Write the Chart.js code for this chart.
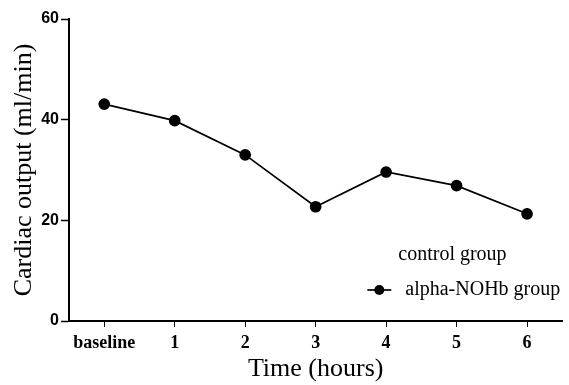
<!DOCTYPE html>
<html>
<head>
<meta charset="utf-8">
<script src="https://cdn.jsdelivr.net/npm/chart.js@4/dist/chart.umd.min.js"></script>
<style>
  html,body{margin:0;padding:0;background:#fff;}
  #wrap{width:569px;height:385px;}
</style>
</head>
<body>
<div id="wrap"><canvas id="co"></canvas></div>
<script>
// time points
const timeLabels = ['baseline','1','2','3','4','5','6'];
// cardiac output, alpha-NOHb group (ml/min)
const nohbValues = [43.1, 39.8, 33.0, 22.7, 29.6, 26.9, 21.3];
// control group: no marks visible in the figure
const controlValues = [];
const seriesNames = ['control group','alpha-NOHb group'];
const yMin = 0, yMax = 60, yStep = 20;

// legend drawn inside the plot, lower right
const insideLegend = {
  id:'insideLegend',
  afterDraw(chart){
    const {ctx, chartArea} = chart;
    ctx.save();
    ctx.font = '20px "Liberation Serif"';
    ctx.fillStyle = '#000';
    ctx.textBaseline = 'middle';
    const rows = [
      {x: chartArea.right-164, y: chartArea.top+236},
      {x: chartArea.right-157, y: chartArea.top+271}
    ];
    chart.data.datasets.forEach((ds,i)=>{
      const r = rows[i];
      if(ds.data.length){
        ctx.strokeStyle = ds.borderColor;
        ctx.lineWidth = ds.borderWidth;
        ctx.beginPath();
        ctx.moveTo(r.x-38, r.y); ctx.lineTo(r.x-14, r.y); ctx.stroke();
        ctx.beginPath();
        ctx.arc(r.x-26, r.y, ds.pointRadius, 0, Math.PI*2);
        ctx.fillStyle = ds.pointBackgroundColor; ctx.fill();
        ctx.fillStyle = '#000';
      }
      ctx.fillText(ds.label, r.x, r.y);
    });
    ctx.restore();
  }
};

new Chart(document.getElementById('co'), {
  type:'line',
  data:{
    labels: timeLabels,
    datasets:[
      { label: seriesNames[0], data: controlValues, borderColor:'#000', borderWidth:1.7,
        pointRadius:5, pointBackgroundColor:'#fff' },
      { label: seriesNames[1], data: nohbValues, borderColor:'#000', borderWidth:1.7,
        pointRadius:5, pointBackgroundColor:'#000', pointBorderColor:'#000', tension:0 }
    ]
  },
  options:{
    responsive:true, maintainAspectRatio:false, animation:false,
    layout:{ padding:{ top:19, right:2, left:0, bottom:0 } },
    plugins:{ legend:{ display:false }, tooltip:{ enabled:false } },
    scales:{
      x:{
        offset:true,
        grid:{ display:true, drawOnChartArea:false, drawTicks:true, tickLength:6, color:'#000', tickWidth:1 },
        border:{ display:true, color:'#000', width:2 },
        ticks:{ color:'#000', padding:6, maxRotation:0,
          font:{ family:'"Liberation Serif"', size:18, weight:'bold' } },
        title:{ display:true, text:'Time (hours)', color:'#000', padding:{top:0,bottom:0},
          font:{ family:'"Liberation Serif"', size:26 } },
        afterFit(s){ s.height = 64; }
      },
      y:{
        min:yMin, max:yMax,
        grid:{ display:true, drawOnChartArea:false, drawTicks:true, tickLength:8, color:'#000', tickWidth:1.5 },
        border:{ display:true, color:'#000', width:2 },
        ticks:{ stepSize:yStep, color:'#000', padding:2,
          font:{ family:'"Liberation Sans"', size:16, weight:'bold' } },
        title:{ display:true, text:'Cardiac output (ml/min)', color:'#000', padding:{top:9,bottom:0},
          font:{ family:'"Liberation Serif"', size:26 } },
        afterFit(s){ s.width = 69; }
      }
    }
  },
  plugins:[insideLegend]
});
</script>
</body>
</html>
